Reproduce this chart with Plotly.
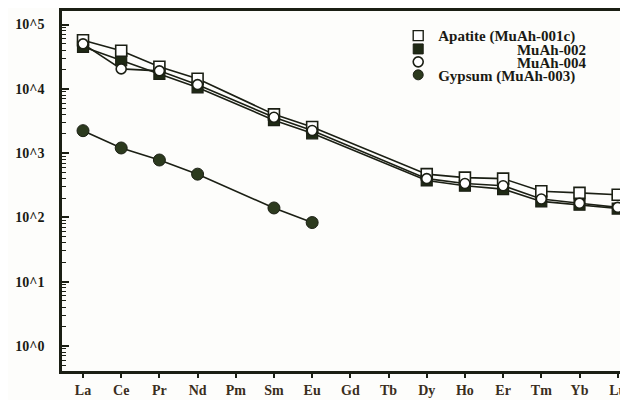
import plotly.graph_objects as go

elements = ["La", "Ce", "Pr", "Nd", "Pm", "Sm", "Eu", "Gd", "Tb", "Dy", "Ho", "Er", "Tm", "Yb", "Lu"]

apatite_x = ["La", "Ce", "Pr", "Nd", "Sm", "Eu", "Dy", "Ho", "Er", "Tm", "Yb", "Lu"]
muah_001c = [57000, 39000, 22000, 14300, 4000, 2550, 470, 415, 400, 255, 240, 225]
muah_002 = [45000, 28000, 17000, 10500, 3250, 2030, 375, 310, 275, 177, 157, 137]
muah_004 = [50000, 20400, 19000, 11600, 3600, 2240, 400, 336, 310, 193, 166, 143]

gypsum_x = ["La", "Ce", "Pr", "Nd", "Sm", "Eu"]
gypsum_003 = [2230, 1200, 780, 470, 140, 83]

ytick_vals = [1, 10, 100, 1000, 10000, 100000]
ytick_text = ["10^0", "10^1", "10^2", "10^3", "10^4", "10^5"]
minor_vals = [m * 10 ** k for k in range(-1, 6) for m in range(2, 10)]

legend_names = [
    "Apatite (MuAh-001c)",
    "\u00a0" * 21 + "MuAh-002",
    "\u00a0" * 21 + "MuAh-004",
    "Gypsum (MuAh-003)",
]

LINE = "#1b1f14"
DARK = "#1f2a15"
GYP = "#2c3a1e"
serif = "Liberation Serif, Times New Roman, serif"

fig = go.Figure()

def add_series(x, y, symbol, fill, size, width):
    fig.add_trace(go.Scatter(
        x=x, y=y, mode="lines+markers", showlegend=False,
        line=dict(color=LINE, width=1.6),
        marker=dict(symbol=symbol, size=size, color=fill, line=dict(color=LINE, width=width)),
    ))

add_series(apatite_x, muah_002, "square", DARK, 11, 1.2)
add_series(apatite_x, muah_001c, "square", "white", 11, 1.6)
add_series(apatite_x, muah_004, "circle", "white", 10, 1.6)
add_series(gypsum_x, gypsum_003, "circle", GYP, 12, 1.0)

legend_styles = [
    ("square", "white", 1.4),
    ("square", DARK, 1.0),
    ("circle", "white", 1.6),
    ("circle", GYP, 1.0),
]
legend_ids = ["legend", "legend2", "legend3", "legend4"]
legend_y = [0.931, 0.894, 0.858, 0.822]

for name, (sym, fill, w), lid in zip(legend_names, legend_styles, legend_ids):
    fig.add_trace(go.Scatter(
        x=[None], y=[None], mode="markers", name=name, legend=lid,
        marker=dict(symbol=sym, size=10, color=fill, line=dict(color=LINE, width=w)),
    ))

legend_common = dict(
    xanchor="left", yanchor="middle", bgcolor="rgba(0,0,0,0)", borderwidth=0,
    font=dict(family=serif, size=15, color="#1a1a14", weight="bold"),
    itemwidth=30,
)

fig.update_layout(
    width=620, height=392,
    margin=dict(l=54, r=0, t=3, b=29),
    paper_bgcolor="#fdfdfb", plot_bgcolor="#fdfdfb",
    font=dict(family=serif, color="#1a1a14"),
    showlegend=True,
    **{lid: dict(x=0.594, y=ly, **legend_common) for lid, ly in zip(legend_ids, legend_y)},
)

fig.update_xaxes(
    type="category", categoryorder="array", categoryarray=elements,
    range=[-0.55, 14.27],
    showline=True, linecolor=LINE, linewidth=2.5, mirror=True,
    ticks="outside", ticklen=4, tickwidth=1.5, tickcolor=LINE,
    tickfont=dict(family=serif, size=14, color="#3a2e1c", weight="bold"),
    showgrid=False, zeroline=False,
)

fig.update_yaxes(
    type="log", range=[-0.39, 5.21],
    tickvals=ytick_vals, ticktext=ytick_text,
    showline=True, linecolor=LINE, linewidth=2.5, mirror=False,
    ticks="inside", ticklen=7, tickwidth=1.5, tickcolor=LINE,
    minor=dict(tickvals=minor_vals, ticks="inside", ticklen=4, tickwidth=1.2, tickcolor=LINE, showgrid=False),
    tickfont=dict(family=serif, size=14, color="#1a1a14", weight="bold"),
    ticklabelstandoff=12,
    showgrid=False, zeroline=False,
)

fig.write_html("out.html")
